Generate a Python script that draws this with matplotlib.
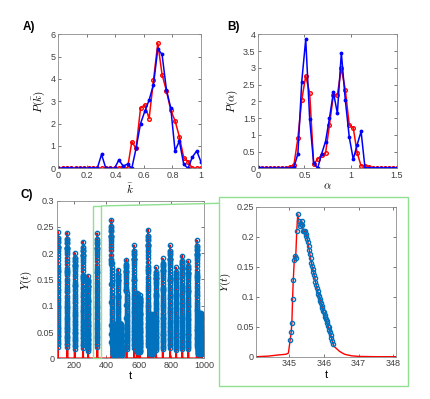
import numpy as np
import matplotlib
matplotlib.use("Agg")
import matplotlib.pyplot as plt
from matplotlib.patches import Rectangle, ConnectionPatch

plt.rcParams['font.family'] = ['Liberation Sans', 'DejaVu Sans']
plt.rcParams['mathtext.fontset'] = 'cm'

# A) distribution of k-bar
k_bins = [0.0, 0.030, 0.061, 0.091, 0.121, 0.152, 0.182, 0.212, 0.242, 0.273,
          0.303, 0.333, 0.364, 0.394, 0.424, 0.455, 0.485, 0.515, 0.545, 0.576,
          0.606, 0.636, 0.667, 0.697, 0.727, 0.758, 0.788, 0.818, 0.848, 0.879,
          0.909, 0.939, 0.970, 1.0]
pk_red = [0, 0, 0, 0, 0, 0, 0, 0, 0, 0,
          0, 0, 0, 0, 0, 0.05, 0, 1.19, 0.89, 2.69,
          2.85, 2.22, 3.94, 5.6, 4.2, 3.46, 2.6, 2.13, 1.42, 0.47,
          0.3, 0, 0, 0]
pk_blue = [0, 0, 0, 0, 0, 0, 0, 0, 0, 0,
           0.62, 0, 0, 0, 0.37, 0.1, 0.19, 0, 0.9, 2.0,
           2.55, 3.05, 3.75, 5.35, 5.1, 3.5, 2.7, 0.78, 1.22, 0.18,
           0, 0.5, 0.78, 0.28]

# B) distribution of alpha
a_bins = [0.0, 0.043, 0.086, 0.129, 0.171, 0.214, 0.257, 0.3, 0.343, 0.386,
          0.429, 0.471, 0.514, 0.557, 0.6, 0.643, 0.686, 0.729, 0.771, 0.814,
          0.857, 0.9, 0.943, 0.986, 1.029, 1.071, 1.114, 1.157, 1.2, 1.243,
          1.286, 1.329, 1.371, 1.414, 1.457, 1.5]
pa_red = [0, 0, 0, 0, 0, 0, 0, 0, 0.05, 0.1,
          0.9, 2.04, 2.76, 2.24, 0.13, 0.27, 0.4, 0.45, 1.29, 2.19,
          2.19, 2.99, 2.34, 1.29, 1.21, 0.47, 0.07, 0.08, 0.05, 0,
          0, 0, 0, 0, 0, 0]
pa_blue = [0.04, 0, 0, 0, 0, 0, 0, 0, 0, 0.03,
           0.43, 2.59, 3.85, 1.47, 0.15, 0, 0.43, 0.8, 1.49, 2.27,
           1.64, 3.45, 2.04, 0.93, 0.27, 0.7, 1.1, 0, 0, 0,
           0, 0, 0, 0, 0, 0]

# D) one event, sampled points
ev_t = [345.03, 345.06, 345.08, 345.10, 345.12, 345.15, 345.17, 345.19, 345.22, 345.25,
        345.28, 345.30, 345.33, 345.36, 345.38, 345.41, 345.44, 345.46, 345.48, 345.50,
        345.52, 345.54, 345.56, 345.58, 345.60, 345.62, 345.64, 345.66, 345.68, 345.70,
        345.72, 345.74, 345.76, 345.78, 345.80, 345.82, 345.84, 345.86, 345.88, 345.90,
        345.92, 345.94, 345.96, 345.98, 346.00, 346.02, 346.04, 346.06, 346.08, 346.10,
        346.12, 346.14, 346.16, 346.18, 346.20, 346.22, 346.24, 346.26]
ev_y = [0.028, 0.041, 0.057, 0.097, 0.128, 0.162, 0.168, 0.165, 0.21, 0.238,
        0.226, 0.218, 0.222, 0.227, 0.219, 0.21, 0.209, 0.21, 0.205, 0.201,
        0.197, 0.191, 0.185, 0.178, 0.171, 0.164, 0.157, 0.151, 0.146, 0.141,
        0.136, 0.131, 0.125, 0.119, 0.114, 0.109, 0.105, 0.101, 0.097, 0.093,
        0.089, 0.085, 0.081, 0.077, 0.074, 0.070, 0.066, 0.063, 0.059, 0.056,
        0.052, 0.049, 0.045, 0.041, 0.036, 0.032, 0.027, 0.022]
# red curve outside the sampled points
pre_t = [344.06, 344.4, 344.7, 344.9, 344.98]
pre_y = [0.0, 0.001, 0.003, 0.004, 0.006]
post_t = [346.3, 346.45, 346.6, 346.8, 347.0, 347.5, 348.08]
post_y = [0.017, 0.009, 0.004, 0.0015, 0.0005, 0.0, 0.0]

# C) burst times and peak heights
burst_t = [103, 161, 206, 257, 288, 345, 432, 441, 451, 461, 473, 483, 493, 524, 571, 588,
           597, 606, 657, 667, 677, 686, 705, 746, 791, 828, 866, 903, 955, 965, 975, 984]
burst_peak = [0.241, 0.239, 0.201, 0.222, 0.157, 0.238, 0.264, 0.065, 0.065, 0.066, 0.169,
              0.067, 0.066, 0.188, 0.215, 0.124, 0.122, 0.121, 0.245, 0.085, 0.085, 0.084,
              0.173, 0.19, 0.215, 0.173, 0.195, 0.185, 0.225, 0.087, 0.086, 0.086]

RED = '#ff0000'
BLUE = '#0000ff'
MBLUE = '#0072bd'
GREEN = '#8fe08f'
GRAY = '#404040'


def style(ax):
    ax.tick_params(direction='in', length=2.5, width=0.5, labelsize=6.5,
                   colors=GRAY, top=True, right=True, pad=2)
    for s in ax.spines.values():
        s.set_color('#8c8c8c')
        s.set_linewidth(0.6)


fig = plt.figure(figsize=(4.31, 3.99), dpi=100)

# A
axA = fig.add_axes([0.1353, 0.5782, 0.3311, 0.3358])
axA.plot(k_bins, pk_red, '-o', color=RED, lw=1.1, ms=2.6, mfc='none', mew=1.0)
axA.plot(k_bins, pk_blue, '.', color=BLUE, lw=1.1, ms=3.5, linestyle='-')
axA.set_xlim(0, 1)
axA.set_ylim(0, 6)
axA.set_xticks([0, 0.2, 0.4, 0.6, 0.8, 1])
axA.set_xticklabels(['0', '0.2', '0.4', '0.6', '0.8', '1'])
axA.set_yticks(range(7))
axA.set_xlabel(r'$\bar{k}$', fontsize=8, labelpad=1)
axA.set_ylabel(r'$P(\bar{k})$', fontsize=8, labelpad=2)
style(axA)

# B
axB = fig.add_axes([0.5993, 0.5782, 0.3211, 0.3358])
axB.plot(a_bins, pa_red, '-o', color=RED, lw=1.1, ms=2.6, mfc='none', mew=1.0)
axB.plot(a_bins, pa_blue, '.', color=BLUE, lw=1.1, ms=3.5, linestyle='-')
axB.set_xlim(0, 1.5)
axB.set_ylim(0, 4)
axB.set_xticks([0, 0.5, 1, 1.5])
axB.set_xticklabels(['0', '0.5', '1', '1.5'])
axB.set_yticks([0, 0.5, 1, 1.5, 2, 2.5, 3, 3.5, 4])
axB.set_yticklabels(['0', '0.5', '1', '1.5', '2', '2.5', '3', '3.5', '4'])
axB.set_xlabel(r'$\alpha$', fontsize=8, labelpad=1)
axB.set_ylabel(r'$P(\alpha)$', fontsize=8, labelpad=2)
style(axB)

# build the full series for C from the event shape
ev_t = np.array(ev_t)
ev_y = np.array(ev_y)
line_t = np.concatenate([pre_t, ev_t, post_t])
line_y = np.concatenate([pre_y, ev_y, post_y])
ref_peak = ev_y.max()
c_line_t, c_line_y, c_pt_t, c_pt_y = [], [], [], []
for t0, pk in zip(burst_t, burst_peak):
    c_line_t.append(line_t - 345 + t0)
    c_line_y.append(line_y * pk / ref_peak)
    c_pt_t.append(ev_t - 345 + t0)
    c_pt_y.append(ev_y * pk / ref_peak)
c_line_t = np.concatenate(c_line_t)
c_line_y = np.concatenate(c_line_y)
c_pt_t = np.concatenate(c_pt_t)
c_pt_y = np.concatenate(c_pt_y)

# C
axC = fig.add_axes([0.1329, 0.1020, 0.3404, 0.3950])
axC.plot(c_line_t, c_line_y, color=RED, lw=1.3)
axC.plot(c_pt_t, c_pt_y, 'o', color=MBLUE, ms=3.1, mfc='none', mew=1.0)
axC.set_xlim(100, 1000)
axC.set_ylim(0, 0.3)
axC.set_xticks([200, 400, 600, 800, 1000])
axC.set_yticks([0, 0.05, 0.1, 0.15, 0.2, 0.25, 0.3])
axC.set_yticklabels(['0', '0.05', '0.1', '0.15', '0.2', '0.25', '0.3'])
axC.set_xlabel('t', fontsize=8, labelpad=1)
axC.set_ylabel(r'$Y(t)$', fontsize=8, labelpad=2)
style(axC)
axC.add_patch(Rectangle((319, 0), 52, 0.29, fill=False, edgecolor=GREEN,
                        lw=1.0, clip_on=False, zorder=5))

# D
axD = fig.add_axes([0.5951, 0.1060, 0.3237, 0.3759])
axD.plot(line_t, line_y, color=RED, lw=1.0)
axD.plot(ev_t, ev_y, 'o', color=MBLUE, ms=3.0, mfc='none', mew=1.0)
axD.set_xlim(344.06, 348.08)
axD.set_ylim(0, 0.25)
axD.set_xticks([345, 346, 347, 348])
axD.set_yticks([0, 0.05, 0.1, 0.15, 0.2, 0.25])
axD.set_yticklabels(['0', '0.05', '0.1', '0.15', '0.2', '0.25'])
axD.set_xlabel('t', fontsize=8, labelpad=1)
axD.set_ylabel(r'$Y(t)$', fontsize=8, labelpad=2)
style(axD)

# green frame round the zoom and the link line
fig.add_artist(Rectangle((0.5088, 0.0326), 0.4378, 0.4729, transform=fig.transFigure,
                         fill=False, edgecolor=GREEN, lw=1.0))
con = ConnectionPatch(xyA=(371, 0.29), coordsA='data', axesA=axC,
                      xyB=(0.5088, 0.4905), coordsB='figure fraction',
                      color=GREEN, lw=1.0)
fig.add_artist(con)

fig.text(23 / 431, 1 - 30 / 399, 'A)', fontsize=8.5, fontweight='bold')
fig.text(227 / 431, 1 - 30 / 399, 'B)', fontsize=8.5, fontweight='bold')
fig.text(21 / 431, 1 - 198 / 399, 'C)', fontsize=8.5, fontweight='bold')

fig.savefig('out.png', dpi=100)
